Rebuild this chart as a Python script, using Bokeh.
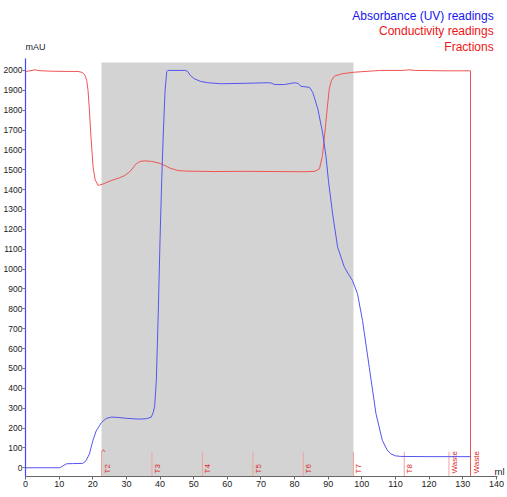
import numpy as np
from bokeh.plotting import figure
from bokeh.models import Range1d, LinearAxis
from bokeh.core.properties import value
from bokeh.embed import file_html
from bokeh.resources import INLINE

# ---- data ----
uv_ml = [0, 10.2, 11, 12.2, 14, 17, 18, 19, 20, 21, 22.6, 24, 25.5, 27, 30, 32.4, 34, 36,
         37.4, 38, 38.4, 38.9, 39.5, 40, 40.5, 41, 41.5, 42, 42.3, 47.5, 48.2, 49, 50.2, 52,
         54.2, 58, 65, 72, 73, 74, 77, 79.9, 81, 81.9, 84.4, 85.4, 86.9, 88.3, 89.3, 90.1,
         91.3, 92.8, 94.8, 96, 97.2, 98.7, 100.2, 102.2, 104.2, 106.1, 107.5, 108.6, 110,
         111.6, 120, 132.3]
uv_mau = [0, 0, 8, 20, 21, 22, 35, 70, 135, 185, 228, 248, 255, 254, 249, 246, 245, 247,
          255, 280, 310, 440, 800, 1150, 1450, 1700, 1900, 1995, 2000, 2000, 1995, 1975, 1958, 1945,
          1938, 1933, 1935, 1938, 1937, 1929, 1929, 1938, 1935, 1920, 1915, 1890, 1807, 1689, 1572, 1440,
          1278, 1110, 1010, 975, 943, 876, 741, 506, 272, 137, 90, 70, 60,
          57, 56, 56]

cond_ml = [0, 1, 2.8, 4, 7.7, 12, 15.6, 16.8, 17.6, 18.2, 18.6, 19.0, 19.4, 20.1, 20.7, 21.6,
           23, 25.5, 28, 29.5, 31, 32.9, 34, 35.4, 37.5, 39.4, 41, 43, 45.3, 48.3, 56.2, 65, 75,
           82.8, 86, 87.4, 88.3, 89.3, 90.3, 91, 91.8, 94, 97.7, 105.6, 112, 114, 116, 125,
           132.3, 132.3]
cond_mau = [1995, 1997, 2003, 1999, 1996, 1995, 1995, 1990, 1979, 1950, 1899, 1800, 1681, 1513, 1450, 1421,
            1428, 1446, 1460, 1471, 1490, 1530, 1542, 1545, 1542, 1535, 1525, 1508, 1496, 1493, 1491, 1492, 1491,
            1490, 1492, 1505, 1572, 1739, 1907, 1950, 1971, 1983, 1991, 2000, 2000, 2003, 2000, 1998,
            1998, -100]

frac_ml = [22.6, 37.6, 52.6, 67.6, 82.6, 97.5, 112.6, 125.9, 132.3]
frac_labels = ["T2", "T3", "T4", "T5", "T6", "T7", "T8", "Waste", "Waste"]

x_ticks = list(range(0, 141, 10))
y_ticks = list(range(0, 2001, 100))

# ---- figure ----
Y0, YAX, YTOP = -44, 2060, 2352
XAX, XR = 140.4, 143.3
p = figure(width=507, height=497, output_backend="svg", toolbar_location=None,
           x_range=Range1d(0, XR), y_range=Range1d(Y0, YTOP),
           min_border_left=24, min_border_right=0, min_border_top=0, min_border_bottom=21,
           x_axis_location=None, y_axis_location=None)
p.grid.visible = False
p.outline_line_color = None
p.background_fill_color = "white"

xa = LinearAxis(ticker=x_ticks, bounds=(0, XAX))
xa.ticker.num_minor_ticks = 5
xa.axis_line_color = "#666666"
xa.major_tick_line_color = "#666666"
xa.minor_tick_line_color = "#999999"
xa.major_tick_out = 3
xa.major_tick_in = 0
xa.minor_tick_out = 2
xa.minor_tick_in = 0
xa.major_label_standoff = 1
xa.major_label_text_font = "Liberation Sans"
xa.major_label_text_font_size = "9px"
xa.major_label_text_color = "#222222"
p.add_layout(xa, "below")

ya = LinearAxis(ticker=y_ticks, bounds=(Y0, YAX))
ya.ticker.num_minor_ticks = 4
ya.axis_line_color = "#4444ff"
ya.axis_line_width = 1.2
ya.major_tick_line_color = "#777777"
ya.minor_tick_line_color = "#aaaaaa"
ya.major_tick_out = 3
ya.major_tick_in = 0
ya.minor_tick_out = 2
ya.minor_tick_in = 0
ya.major_label_standoff = 0
ya.major_label_text_font = "Liberation Sans"
ya.major_label_text_font_size = "8.5px"
ya.major_label_text_color = "#222222"
p.add_layout(ya, "left")

# shaded collection region (T2 .. T7)
p.quad(left=[frac_ml[0]], right=[frac_ml[5]], bottom=[Y0], top=[2040],
       fill_color="#d3d3d3", line_color=None)

# fraction markers
p.segment(x0=frac_ml, y0=[Y0] * len(frac_ml), x1=frac_ml, y1=[80] * len(frac_ml),
          line_color="#f2a3a3", line_width=1)
p.text(x=frac_ml, y=[Y0] * len(frac_ml), text=frac_labels, angle=np.pi / 2,
       text_align="left", text_baseline="top", x_offset=1, y_offset=-3,
       text_font=value("Liberation Sans"), text_font_size="8px", text_color="#e02525")
p.text(x=[frac_ml[0]], y=[84], text=["^"], text_align="left", text_baseline="middle",
       x_offset=0, text_font=value("Liberation Sans"), text_font_size="8px", text_color="#e02525")

# curves
p.line(cond_ml, cond_mau, line_color="#ee5555", line_width=1)
p.line(uv_ml, uv_mau, line_color="#5555ee", line_width=1)

# texts (inside the frame, above the axis bounds)
p.text(x=[0], y=[2118], text=["mAU"], text_align="left", text_baseline="middle", x_offset=0,
       text_font=value("Liberation Sans"), text_font_size="9px", text_color="#222222")
p.text(x=[XR], y=[Y0], text=["ml"], text_align="right", text_baseline="bottom", x_offset=-3,
       text_font=value("Liberation Sans"), text_font_size="9.5px", text_color="#222222")
p.text(x=[139.2] * 3, y=[2276, 2196, 2118],
       text=["Absorbance (UV) readings", "Conductivity readings", "Fractions"],
       text_align="right", text_baseline="middle",
       text_font=value("Liberation Sans"), text_font_size="12px",
       text_color=["#1515ee", "#ee1515", "#ee1515"])

open("out.html", "w").write(file_html(p, INLINE))
